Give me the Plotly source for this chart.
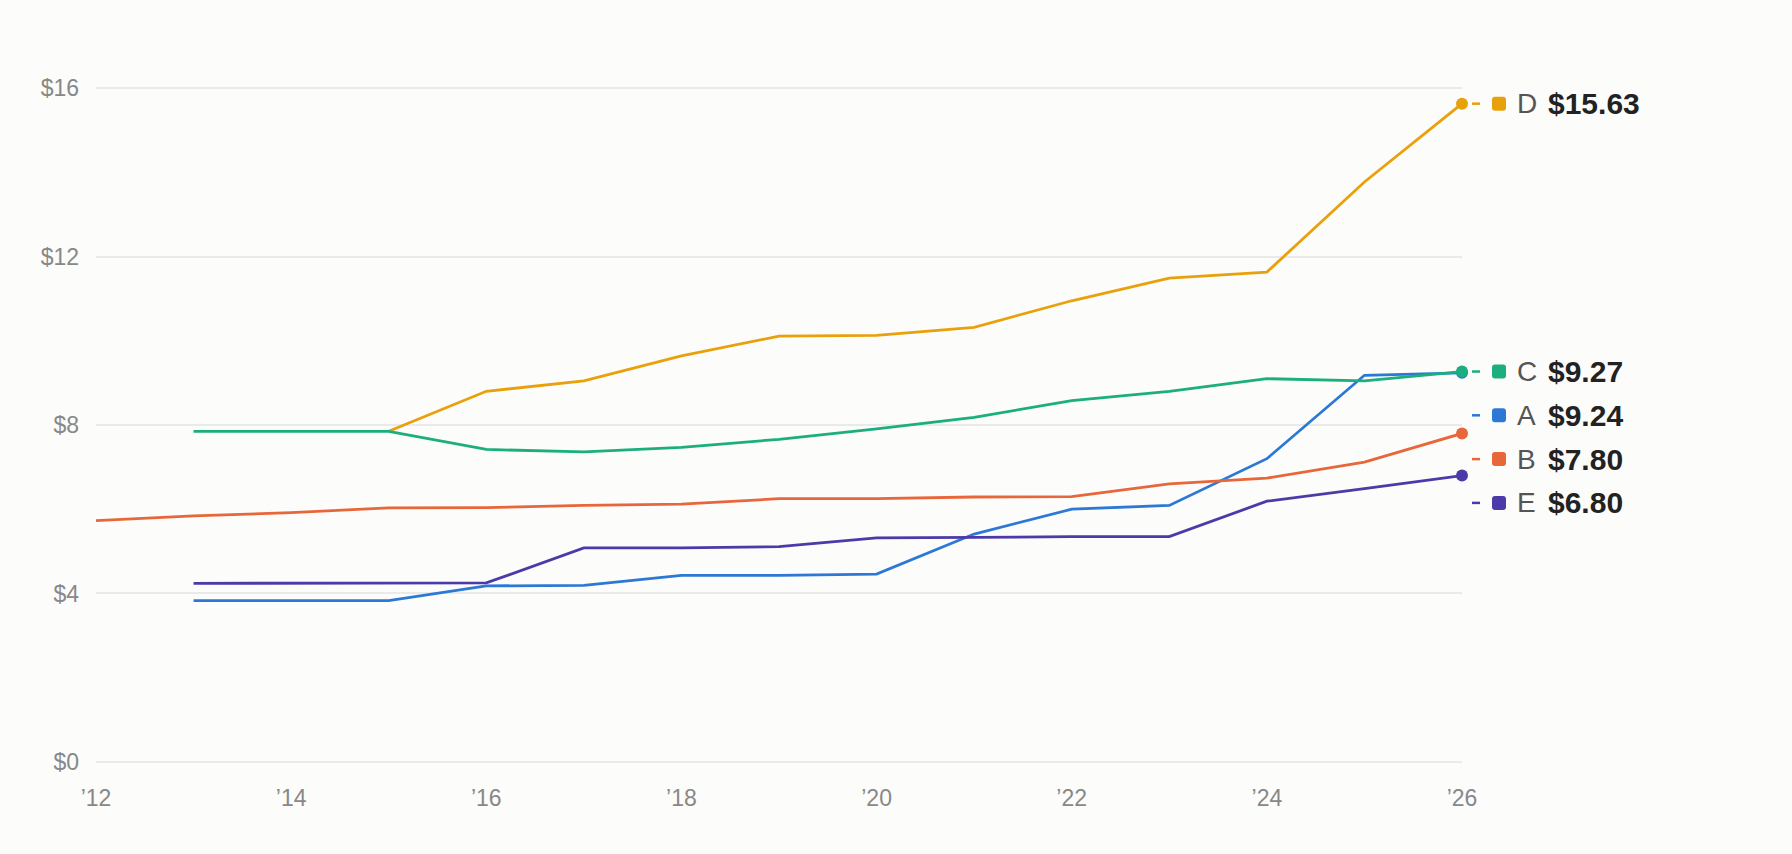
import plotly.graph_objects as go

# yearly values, None = no data that year
years = list(range(2012, 2027))
names = ['A', 'B', 'E', 'D', 'C']
a_vals = [None, 3.83, 3.83, 3.83, 4.18, 4.19, 4.43, 4.43, 4.46, 5.41, 6.00, 6.09, 7.20, 9.18, 9.24]
b_vals = [5.73, 5.84, 5.92, 6.03, 6.04, 6.09, 6.12, 6.25, 6.25, 6.29, 6.30, 6.60, 6.74, 7.12, 7.80]
e_vals = [None, 4.24, 4.24, 4.24, 4.25, 5.08, 5.08, 5.11, 5.32, 5.33, 5.35, 5.35, 6.19, 6.49, 6.80]
d_vals = [None, None, None, 7.85, 8.80, 9.05, 9.64, 10.11, 10.13, 10.32, 10.95, 11.49, 11.63, 13.77, 15.63]
c_vals = [None, 7.85, 7.85, 7.85, 7.42, 7.36, 7.47, 7.66, 7.91, 8.18, 8.58, 8.80, 9.10, 9.05, 9.27]
colors = ['#2B78D6', '#E8673A', '#4B3AA8', '#E9A10B', '#1BAE7F']

y_ticks = [0, 4, 8, 12, 16]
x_ticks = list(range(2012, 2027, 2))
x_labels = ['\u2019' + str(y)[2:] for y in x_ticks]

font = 'Liberation Sans, Arial, sans-serif'
series = [a_vals, b_vals, e_vals, d_vals, c_vals]

fig = go.Figure()
for name, vals, col in zip(names, series, colors):
    fig.add_trace(go.Scatter(
        x=years, y=vals, mode='lines', name=name,
        line=dict(color=col, width=2.8),
        cliponaxis=False, showlegend=False, hoverinfo='skip'
    ))
    fig.add_trace(go.Scatter(
        x=[years[-1]], y=[vals[-1]], mode='markers',
        marker=dict(color=col, size=12),
        cliponaxis=False, showlegend=False, hoverinfo='skip'
    ))

# end labels, pushed down so they do not overlap
gap = 1.04
order = sorted(range(len(names)), key=lambda i: -series[i][-1])
prev = None
for i in order:
    last = series[i][-1]
    ly = last if prev is None else min(last, prev - gap)
    prev = ly
    col = colors[i]
    fig.add_shape(type='line', xref='paper', yref='y',
                  xsizemode='pixel', xanchor=1, x0=10, x1=18,
                  ysizemode='pixel', yanchor=ly, y0=0, y1=0,
                  line=dict(color=col, width=2.5))
    # small rounded square
    fig.add_shape(type='path', xref='paper', yref='y',
                  xsizemode='pixel', xanchor=1,
                  ysizemode='pixel', yanchor=ly,
                  path='M 33 -7 L 41 -7 Q 44 -7 44 -4 L 44 4 Q 44 7 41 7 '
                       'L 33 7 Q 30 7 30 4 L 30 -4 Q 30 -7 33 -7 Z',
                  fillcolor=col, line=dict(width=0))
    fig.add_annotation(x=1, y=ly, xref='paper', yref='y', xanchor='left',
                       xshift=53, showarrow=False, text=names[i],
                       font=dict(family=font, size=28, color='#555555'))
    fig.add_annotation(x=1, y=ly, xref='paper', yref='y', xanchor='left',
                       xshift=84, showarrow=False, text='<b>$%.2f</b>' % last,
                       font=dict(family=font, size=30, color='#222222'))

fig.update_layout(
    width=1792, height=854,
    margin=dict(l=96, r=330, t=86, b=90),
    paper_bgcolor='#FCFCFA', plot_bgcolor='#FCFCFA',
    font=dict(family=font, size=23, color='#888888'),
    xaxis=dict(range=[2012, 2026], tickvals=x_ticks, ticktext=x_labels,
               showgrid=False, zeroline=False, showline=False,
               ticks='', ticklabelstandoff=18),
    yaxis=dict(range=[-0.05, 16.05], tickvals=y_ticks,
               ticktext=['$' + str(v) for v in y_ticks],
               showgrid=True, gridcolor='#EAEAEA', gridwidth=1.5,
               zeroline=False, showline=False, ticks='', ticklabelstandoff=16),
)

fig.write_html('out.html', config={'displayModeBar': False},
               post_script="document.body.style.margin='0';")
